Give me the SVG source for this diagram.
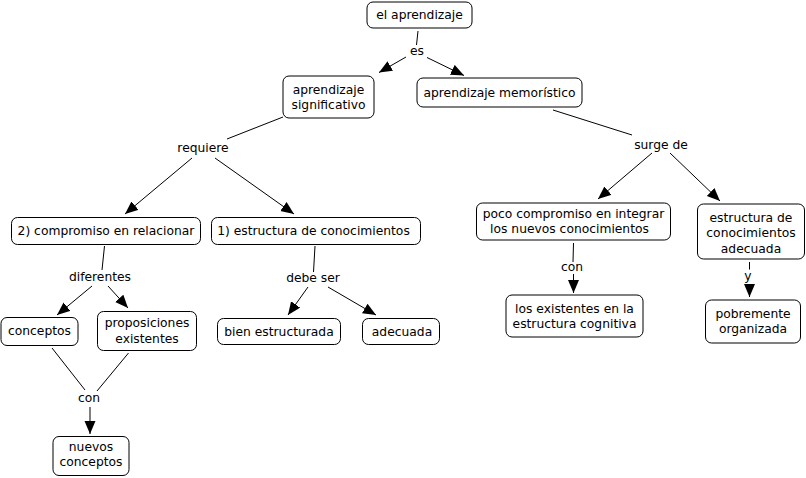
<svg xmlns="http://www.w3.org/2000/svg" width="806" height="478" viewBox="0 0 806 478">
<style>
.n{fill:#fff;stroke:#000;stroke-width:1}
text{font-family:"DejaVu Sans","Liberation Sans",sans-serif;font-size:12.3px;fill:#000;text-anchor:middle}
.c line{stroke:#000;stroke-width:1}
.a{marker-end:url(#ah)}
</style>
<defs>
<marker id="ah" markerUnits="userSpaceOnUse" markerWidth="14" markerHeight="12" refX="13" refY="5.5" orient="auto">
<path d="M0,0 L13,5.5 L0,11 Z" fill="#000"/>
</marker>
</defs>
<rect width="806" height="478" fill="#fff"/>
<g class="c" id="connectors">
<line x1="418" y1="31" x2="416.5" y2="45"/>
<line class="a" x1="406" y1="57" x2="379" y2="72.5"/>
<line class="a" x1="427" y1="57.5" x2="464" y2="75.5"/>
<line x1="283" y1="117" x2="227" y2="139"/>
<line class="a" x1="192" y1="158" x2="125" y2="214"/>
<line class="a" x1="215" y1="158" x2="294" y2="214"/>
<line x1="104.5" y1="246" x2="102" y2="270"/>
<line class="a" x1="92" y1="286" x2="57" y2="315"/>
<line class="a" x1="108" y1="286" x2="128" y2="308"/>
<line x1="315" y1="246" x2="313.5" y2="272"/>
<line class="a" x1="308" y1="287" x2="288" y2="315"/>
<line class="a" x1="328" y1="287" x2="376" y2="315"/>
<line x1="52" y1="348" x2="85" y2="390"/>
<line x1="128.5" y1="353" x2="97" y2="391"/>
<line class="a" x1="90" y1="407" x2="90" y2="434"/>
<line x1="553" y1="110" x2="632" y2="135"/>
<line class="a" x1="652" y1="153" x2="598" y2="199"/>
<line class="a" x1="670" y1="153" x2="720" y2="201"/>
<line x1="573.5" y1="243" x2="573" y2="262"/>
<line class="a" x1="573.5" y1="274" x2="573.5" y2="293"/>
<line x1="749.5" y1="262" x2="749.5" y2="269.5"/>
<line class="a" x1="749.5" y1="284" x2="749.5" y2="297"/>
</g>
<g id="lbl-es"><text x="417" y="55">es</text></g>
<g id="lbl-requiere"><text x="203" y="152">requiere</text></g>
<g id="lbl-diferentes"><text x="100" y="281">diferentes</text></g>
<g id="lbl-debeser"><text x="313" y="282">debe ser</text></g>
<g id="lbl-con1"><text x="89" y="402">con</text></g>
<g id="lbl-surgede"><text x="661" y="149">surge de</text></g>
<g id="lbl-con2"><text x="572" y="271">con</text></g>
<g id="lbl-y"><text x="748" y="280">y</text></g>

<g id="n-aprendizaje"><rect class="n" x="367" y="2" width="105" height="26" rx="6"/><text x="419.5" y="19">el aprendizaje</text></g>
<g id="n-significativo"><rect class="n" x="283" y="76" width="91" height="42" rx="6"/><text x="328.5" y="94">aprendizaje</text><text x="328.5" y="109">significativo</text></g>
<g id="n-memoristico"><rect class="n" x="417" y="78" width="165" height="29" rx="6"/><text x="499.5" y="97">aprendizaje memorístico</text></g>
<g id="n-compromiso"><rect class="n" x="11.5" y="217.5" width="189" height="27" rx="6"/><text x="106" y="235">2) compromiso en relacionar</text></g>
<g id="n-estructura"><rect class="n" x="211.5" y="217.5" width="209" height="27" rx="6"/><text x="313.5" y="235">1) estructura de conocimientos</text></g>
<g id="n-conceptos"><rect class="n" x="1" y="317.5" width="77" height="28" rx="6"/><text x="39.5" y="335">conceptos</text></g>
<g id="n-proposiciones"><rect class="n" x="97.5" y="311.5" width="99" height="39" rx="6"/><text x="147" y="327">proposiciones</text><text x="147" y="343">existentes</text></g>
<g id="n-bien"><rect class="n" x="217.5" y="318.5" width="123" height="26" rx="6"/><text x="279" y="336">bien estructurada</text></g>
<g id="n-adecuada"><rect class="n" x="362.5" y="318.5" width="77" height="26" rx="6"/><text x="402" y="336">adecuada</text></g>
<g id="n-nuevos"><rect class="n" x="53" y="436.5" width="76" height="39" rx="6"/><text x="91" y="451">nuevos</text><text x="91" y="466">conceptos</text></g>
<g id="n-poco"><rect class="n" x="476.5" y="203" width="194" height="37" rx="6"/><text x="573.5" y="218">poco compromiso en integrar</text><text x="569.5" y="233">los nuevos conocimientos</text></g>
<g id="n-estructura2"><rect class="n" x="697.5" y="204" width="107" height="55" rx="6"/><text x="751" y="222">estructura de</text><text x="751" y="237">conocimientos</text><text x="751" y="253">adecuada</text></g>
<g id="n-existentes"><rect class="n" x="506" y="295" width="137" height="42" rx="6"/><text x="574.5" y="313">los existentes en la</text><text x="574.5" y="328">estructura cognitiva</text></g>
<g id="n-pobremente"><rect class="n" x="705.5" y="300" width="95" height="43" rx="6"/><text x="753" y="318">pobremente</text><text x="753" y="333">organizada</text></g>
</svg>
